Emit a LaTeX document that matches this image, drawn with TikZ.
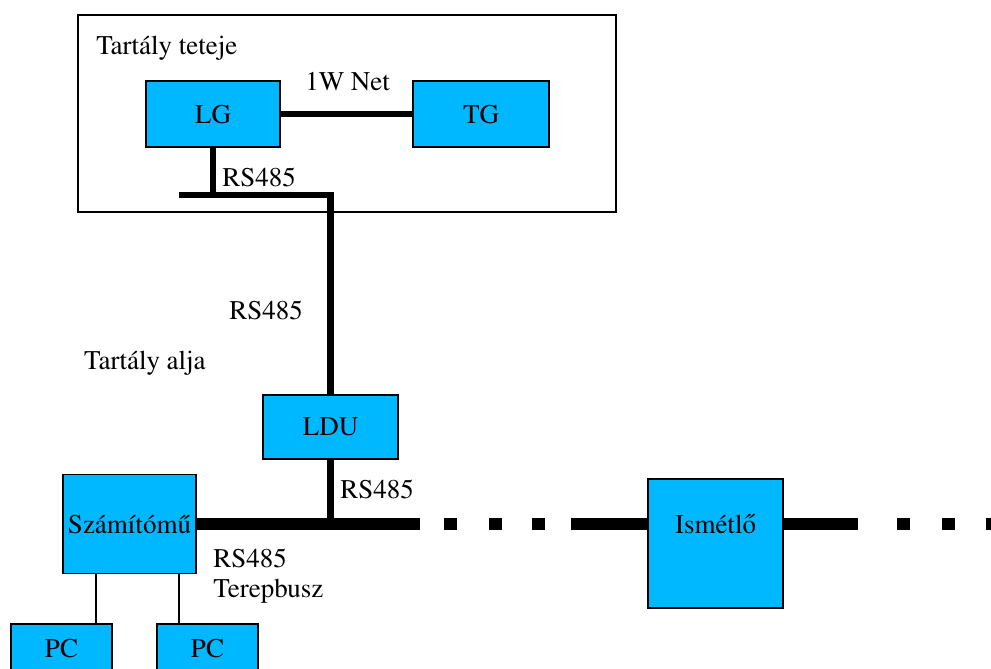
\documentclass[tikz,border=0pt]{standalone}
\usepackage[T1]{fontenc}
\usepackage{times}
\usepackage{xcolor}
\usepackage{tikz}
\definecolor{unitblue}{RGB}{0,184,255}

\begin{document}
\begin{tikzpicture}[x=0.025cm, y=-0.025cm,
    font=\rmfamily\fontsize{19.2}{23}\selectfont,
    unit/.style={draw, rectangle, line width=1pt, fill=unitblue, inner sep=0pt},
    lbl/.style={inner sep=0pt, anchor=base west},
    link/.style={line width=0.16cm},
    bus/.style={line width=0.29cm},
    thinline/.style={line width=1pt}]
    \useasboundingbox (0,0) rectangle (991,669);
    \clip (0,0) rectangle (991,669);

    % tartaly teteje
    \draw[thinline] (78,15) rectangle (616,212);
    \node[lbl] (tteteje) at (96,55) {Tart\'aly teteje};

    \node[unit, minimum width=3.35cm, minimum height=1.65cm] (lg) at (213,114) {LG};
    \node[unit, minimum width=3.4cm, minimum height=1.65cm] (tg) at (481,114) {TG};
    \node[lbl] (onew) at (305,91) {1W Net};
    \draw[link] (lg) -- (tg);

    \coordinate (tbl) at (179,195);
    \coordinate (tbr) at (330.5,195);
    \node[lbl] (rs1) at (222,187) {RS485};

    % tartaly alja
    \node[lbl] (rs2) at (229,319) {RS485};
    \node[lbl, anchor=base east] (talja) at (206,369) {Tart\'aly alja};

    \node[unit, minimum width=3.375cm, minimum height=1.6cm] (ldu) at (330.5,427) {LDU};
    \draw[link] (lg.south) -- (lg.south |- tbl);
    \draw[link] (tbl) -- (tbr) -- (ldu.north);

    \node[unit, minimum width=3.325cm, minimum height=2.475cm] (szam) at (129.5,524) {Sz\'am\'{\i}t\'om\H{u}};
    \node[lbl] (rs3) at (340,498) {RS485};
    \node[lbl] (rs4) at (213,567) {RS485};
    \node[lbl] (terep) at (213,597) {Terepbusz};

    \node[unit, minimum width=2.525cm, minimum height=1.2cm] (pc1) at (61.5,648) {PC};
    \node[unit, minimum width=2.525cm, minimum height=1.2cm] (pc2) at (207.5,648) {PC};
    \draw[thinline] (pc1.north -| 96,0) -- (szam.south -| 96,0);
    \draw[thinline] (pc2.north -| 179,0) -- (szam.south -| 179,0);

    % terepbusz
    \node[unit, minimum width=3.375cm, minimum height=3.225cm,
          text height=0.5cm, text depth=1.025cm] (ism) at (715.5,543.5) {Ism\'etl\H{o}};

    \coordinate (busa) at (420,524);
    \coordinate (busb) at (571,524);
    \coordinate (busc) at (858,524);
    \draw[link] (ldu.south) -- (ldu.south |- szam.east);
    \draw[bus] (szam.east) -- (busa);
    \foreach \x in {444,489,532}
        \fill (\x,518) rectangle ++(13,12);
    \draw[bus] (busb) -- (ism.west |- busb);
    \draw[bus] (ism.east |- busc) -- (busc);
    \foreach \x in {897,942,986}
        \fill (\x,518) rectangle ++(13,12);
\end{tikzpicture}
\end{document}
